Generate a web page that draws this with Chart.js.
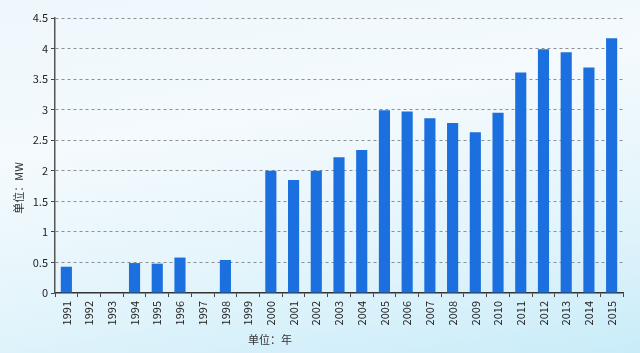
<!DOCTYPE html>
<html>
<head>
<meta charset="utf-8">
<script src="https://cdn.jsdelivr.net/npm/chart.js@4/dist/chart.umd.min.js"></script>
<style>
  html, body { margin: 0; padding: 0; }
  body {
    width: 640px; height: 353px; overflow: hidden;
    background: linear-gradient(170deg, #eef7fc 0%, #f4fafd 35%, #e2f4fb 70%, #c9ecf9 100%);
  }
  #wrap { position: relative; width: 640px; height: 353px; }
</style>
</head>
<body>
<div id="wrap"><canvas id="chart" width="640" height="353"></canvas></div>
<script>
var years = ['1991','1992','1993','1994','1995','1996','1997','1998','1999','2000',
             '2001','2002','2003','2004','2005','2006','2007','2008','2009','2010',
             '2011','2012','2013','2014','2015'];
var capacity = [0.43, null, null, 0.49, 0.48, 0.58, null, 0.54, null, 2.0,
                1.85, 2.0, 2.22, 2.34, 2.99, 2.97, 2.86, 2.78, 2.63, 2.95,
                3.61, 3.99, 3.94, 3.69, 4.17];
var yTicks = [0, 0.5, 1, 1.5, 2, 2.5, 3, 3.5, 4, 4.5];
var yTitle = '单位：MW';
var xTitle = '单位：年';

var fontFamily = '"Noto Sans CJK SC", "Noto Sans", "DejaVu Sans", sans-serif';

// axis titles sit off-centre in the original, so draw them by hand
var titlesPlugin = {
    id: 'axisTitles',
    afterDraw: function (chart) {
        var ctx = chart.ctx;
        ctx.save();
        ctx.fillStyle = '#333';
        ctx.font = '11px ' + fontFamily;
        ctx.textAlign = 'center';
        ctx.textBaseline = 'middle';
        ctx.fillText(xTitle, 270, 340);
        ctx.translate(19, 188);
        ctx.rotate(-Math.PI / 2);
        ctx.fillText(yTitle, 0, 0);
        ctx.restore();
    }
};

new Chart(document.getElementById('chart'), {
    type: 'bar',
    data: {
        labels: years,
        datasets: [{
            data: capacity,
            backgroundColor: '#1b6fde',
            borderWidth: 0,
            barPercentage: 0.98,
            categoryPercentage: 0.5
        }]
    },
    options: {
        responsive: false,
        animation: false,
        layout: { padding: { left: 0, right: 17, top: 18, bottom: 0 } },
        plugins: { legend: { display: false }, tooltip: { enabled: false } },
        scales: {
            x: {
                offset: true,
                grid: {
                    offset: true,
                    drawOnChartArea: false,
                    drawTicks: true,
                    tickLength: 4,
                    color: '#444'
                },
                border: { display: true, color: '#333', width: 1.5 },
                ticks: {
                    color: '#222',
                    font: { size: 11, family: fontFamily },
                    minRotation: 90,
                    maxRotation: 90,
                    autoSkip: false,
                    padding: 4
                },
                afterFit: function (scale) { scale.height = 60; }
            },
            y: {
                min: 0,
                max: 4.5,
                afterBuildTicks: function (scale) {
                    scale.ticks = yTicks.map(function (v) { return { value: v }; });
                },
                grid: {
                    color: function (c) { return c.tick.value === 0 ? 'rgba(0,0,0,0)' : '#8a9096'; },
                    lineWidth: 1,
                    drawTicks: true,
                    tickLength: 4,
                    tickColor: '#444'
                },
                border: { display: true, color: '#555', width: 1.5, dash: [3, 3] },
                ticks: {
                    color: '#222',
                    font: { size: 11, family: fontFamily },
                    padding: 3,
                    callback: function (v) { return String(v); }
                },
                afterFit: function (scale) { scale.width = 55; }
            }
        }
    },
    plugins: [titlesPlugin]
});
</script>
</body>
</html>
